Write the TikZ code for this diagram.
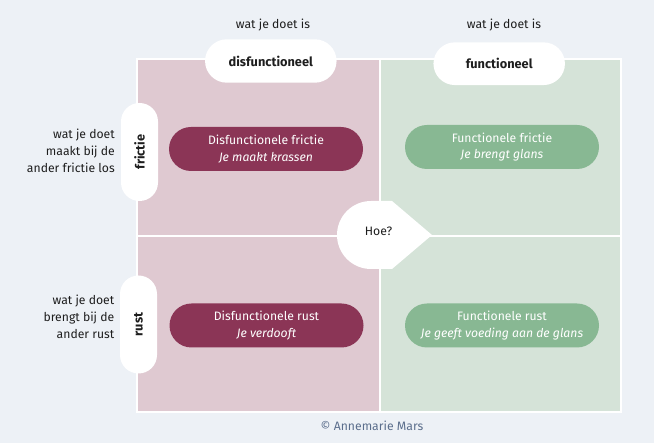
\documentclass[tikz,border=0pt]{standalone}
\usepackage{fontspec}
\setmainfont{Fira Sans}
\usetikzlibrary{shapes.misc}
\definecolor{bg}{HTML}{EDF1F6}
\definecolor{pinkq}{HTML}{DFC9D1}
\definecolor{greenq}{HTML}{D5E3D8}
\definecolor{darkpink}{HTML}{8B3556}
\definecolor{greenpill}{HTML}{88B893}
\definecolor{copy}{HTML}{5B6E8C}
\definecolor{txt}{HTML}{1E1E1E}
\tikzset{
  whitepill/.style={fill=white, rounded rectangle, inner sep=0pt, font=\bfseries\fontsize{12.8}{14}\selectfont, text=txt},
  vpill/.style={fill=white, rectangle, rounded corners=18.5pt, inner sep=0pt, minimum width=37pt, minimum height=98pt},
  vtext/.style={rotate=90, inner sep=0pt, font=\bfseries\fontsize{12.8}{14}\selectfont, text=txt},
  quadpill/.style={rounded rectangle, inner sep=0pt, minimum width=194pt, minimum height=44pt, text=white, align=center, font=\fontsize{12.2}{16.5}\selectfont},
  sidetext/.style={align=right, anchor=east, inner sep=0pt, text=txt, font=\fontsize{12.2}{16.8}\selectfont},
  toptext/.style={text=txt, inner sep=0pt, font=\fontsize{12.2}{14}\selectfont},
}
\begin{document}
\begin{tikzpicture}[x=1pt,y=-1pt]
\useasboundingbox (0,0) rectangle (654,443);
\fill[bg] (0,0) rectangle (654,443);
% quadrants
\fill[pinkq] (137,59) rectangle (380,412);
\fill[greenq] (380,59) rectangle (621,412);
\draw[white, line width=2pt] (137,59) rectangle (621,412);
\draw[white, line width=2pt] (380,59) -- (380,412);
\draw[white, line width=2pt] (137,236) -- (621,236);
% top labels
\node[toptext] (t1) at (273,25) {wat je doet is};
\node[toptext] (t2) at (504,25) {wat je doet is};
\node[whitepill, minimum width=131.5pt, minimum height=43.4pt] (dis) at (270.8,61) {disfunctioneel};
\node[whitepill, minimum width=131.5pt, minimum height=42.7pt] (fun) at (499.2,63.7) {functioneel};
% side pills
\node[vpill] (fr) at (139.5,152) {};
\node[vtext] (frt) at (fr.center) {frictie};
\node[vpill] (ru) at (138.5,324.5) {};
\node[vtext] (rut) at (ru.center) {rust};
% side text
\node[sidetext] (s1) at (115,151) {wat je doet\\maakt bij de\\ander frictie los};
\node[sidetext] (s2) at (114.5,317) {wat je doet\\brengt bij de\\ander rust};
% quadrant pills
\node[quadpill, fill=darkpink] (q1) at (266,149) {Disfunctionele frictie\\\textit{Je maakt krassen}};
\node[quadpill, fill=greenpill] (q2) at (502,147) {Functionele frictie\\\textit{Je brengt glans}};
\node[quadpill, fill=darkpink] (q3) at (266.5,325.5) {Disfunctionele rust\\\textit{Je verdooft}};
\node[quadpill, fill=greenpill] (q4) at (502,325.5) {Functionele rust\\\textit{Je geeft voeding aan de glans}};
% Hoe? shape
\fill[white] (371,201) -- (392,201) -- (432,235) -- (392,269) -- (371,269) arc[start angle=-90, end angle=-270, radius=34pt] -- cycle;
\node[toptext] (hoe) at (378.5,231) {Hoe?};
% copyright
\node[text=copy, inner sep=0pt, font=\fontsize{12.2}{14}\selectfont] (cp) at (372,426) {© Annemarie Mars};
\end{tikzpicture}
\end{document}
